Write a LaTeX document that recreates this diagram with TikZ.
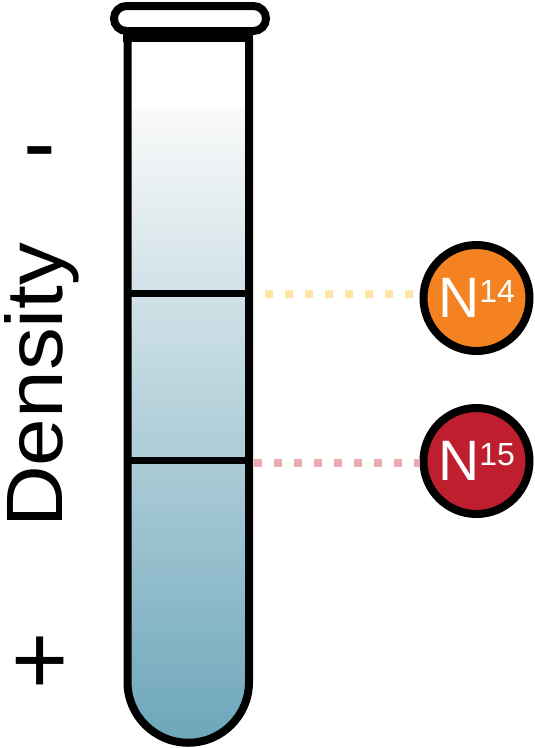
\documentclass[tikz,border=0pt]{standalone}
\usepackage{fontspec}
\setmainfont{Liberation Sans}
\definecolor{tubetop}{RGB}{250,250,250}
\definecolor{tubebot}{RGB}{108,166,186}
\definecolor{orangeN}{RGB}{245,130,32}
\definecolor{redN}{RGB}{190,30,45}
\definecolor{dotyellow}{RGB}{254,230,165}
\definecolor{dotred}{RGB}{232,174,176}
\tikzset{
  tubeline/.style={line width=8pt, black},
  bandline/.style={line width=7pt, black},
  dotline/.style={line width=8pt, dash pattern=on 8pt off 12pt},
  isotope/.style={circle, draw=black, line width=8pt, minimum size=106pt, inner sep=0pt, text=white},
  bigsign/.style={inner sep=0pt, font=\fontsize{98}{98}\selectfont},
}
\newcommand{\iso}[1]{{\fontsize{57}{57}\selectfont N}{\fontsize{32}{32}\selectfont\raisebox{15pt}{#1}}}
\begin{document}
\begin{tikzpicture}[x=1pt,y=-1pt]
\useasboundingbox (0,0) rectangle (535,748);
% tube interior
\begin{scope}
  \clip (127.5,38) -- (127.5,682) arc[start angle=180,end angle=0,radius=60.75] -- (249,38) -- cycle;
  \fill[white] (120,30) rectangle (260,110);
  \shade[top color=tubetop, bottom color=tubebot] (120,108) rectangle (260,745);
\end{scope}
% tube outline
\draw[tubeline] (127.5,38) -- (127.5,682) arc[start angle=180,end angle=0,radius=60.75] -- (249,38);
% cap
\fill[black] (123,30) rectangle (253,42);
\draw[tubeline, rounded corners=12.5pt] (114,6) rectangle (266,31);
% bands
\coordinate (b14l) at (127.5,293);
\coordinate (b14r) at (249,293);
\coordinate (b15l) at (127.5,460);
\coordinate (b15r) at (249,460);
\draw[bandline] (b14l) -- (b14r);
\draw[bandline] (b15l) -- (b15r);
% isotopes
\node[isotope, fill=orangeN] (n14) at (476.5,298) {\iso{14}};
\node[isotope, fill=redN] (n15) at (476.5,461) {\iso{15}};
\coordinate (d14) at (265,294);
\coordinate (d15) at (254,463);
\draw[dotline, dotyellow] (d14) -- (d14 -| n14.west);
\draw[dotline, dotred] (d15) -- (d15 -| n15.west);
% axis labels
\node[rotate=90, anchor=base west, inner sep=0pt, font=\fontsize{80}{80}\selectfont] (dens) at (63,528) {\scalebox{1.07}[1]{Density}};
\node[bigsign, anchor=base] (minus) at (40,176.5) {-};
\node[bigsign, anchor=base] (plus) at (40,693.6) {+};
\end{tikzpicture}
\end{document}
